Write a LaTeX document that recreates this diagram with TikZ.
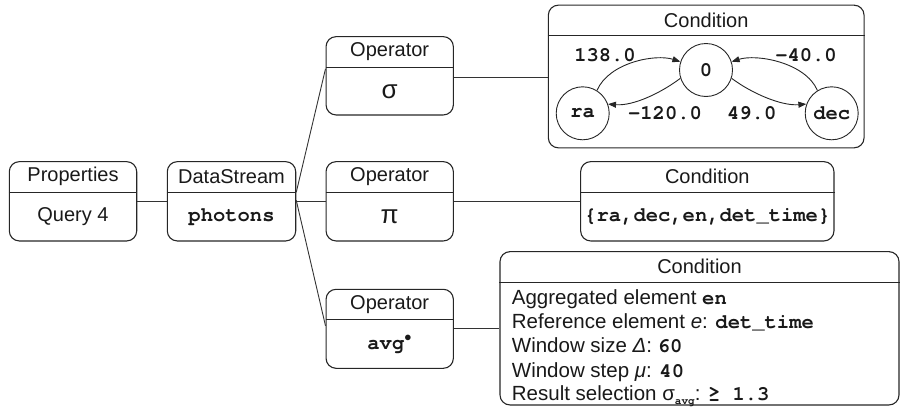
\documentclass[tikz,border=0pt]{standalone}
\usepackage{fontspec}
\setmainfont{Liberation Sans}
\setmonofont{TeX Gyre Cursor}
\usetikzlibrary{arrows.meta,calc}

% a rounded two-compartment box: name, centre, width, height, header, body
\newcommand\umlpanel[6]{%
  \node[panel, minimum width=#3, minimum height=#4] (#1) at (#2) {};
  \draw[divider] ($(#1.north west)+(0,31)$) -- ($(#1.north east)+(0,31)$);
  \node[hdr] (#1-head) at ($(#1.north)+(0,15.5)$) {#5};
  \node[body] (#1-body) at ($(#1.center)+(0,15.5)$) {#6};
}
\newcommand\codefont{\ttfamily\bfseries\fontsize{20.5}{22}\selectfont}

\tikzset{
  panel/.style={draw=black!85, line width=1.1pt, rounded corners=10pt, inner sep=0pt},
  divider/.style={draw=black!85, line width=1pt},
  wire/.style={draw=black!80, line width=0.9pt},
  hdr/.style={font=\fontsize{20}{22}\selectfont, text=black!90, inner sep=0pt},
  body/.style={font=\fontsize{20}{22}\selectfont, text=black!90, inner sep=0pt},
  state/.style={draw=black!85, circle, line width=0.9pt, minimum size=53pt, inner sep=0pt,
                font=\codefont, text=black!90},
  trans/.style={draw=black!85, line width=0.9pt, -{Triangle[length=8pt,width=6pt]}},
  tlabel/.style={font=\codefont, text=black!90, inner sep=0pt},
  condline/.style={font=\fontsize{20.5}{22}\selectfont, text=black!90, inner sep=0pt, anchor=base west},
}

\begin{document}
\begin{tikzpicture}[x=1pt, y=-1pt]
\useasboundingbox (0,0) rectangle (903,407);

% query and stream
\umlpanel{prop}{73,201.3}{127.4pt}{79.3pt}{Properties}{Query 4}
\umlpanel{ds}{231.5,201.3}{128.4pt}{79.3pt}{DataStream}{\codefont photons}

% operators
\umlpanel{op1}{389.7,75.8}{127.3pt}{78.3pt}{Operator}{\fontsize{26}{26}\selectfont σ}
\umlpanel{op2}{389.7,201.3}{127.3pt}{79.3pt}{Operator}{\fontsize{26}{26}\selectfont π}
\umlpanel{op3}{389.7,328.8}{127.3pt}{79pt}{Operator}{\codefont avg$^{\bullet}$}

% conditions
\umlpanel{cond1}{706.2,76.5}{315.7pt}{142.7pt}{Condition}{}
\umlpanel{cond2}{707.3,201.3}{253.3pt}{79.3pt}{Condition}{\codefont \{ra,dec,en,det\_time\}}
\umlpanel{cond3}{699.5,328.3}{399pt}{153.3pt}{Condition}{}

% tree connectors
\draw[wire] (prop.east) -- (ds.west);
\draw[wire] ($(ds.east)+(0,-9)$) -- ($(op1.west)+(0,-7)$);
\draw[wire] (ds.east) -- (op2.west);
\draw[wire] ($(ds.east)+(0,-1)$) -- ($(op3.west)+(0,-3)$);
\draw[wire] ($(op1.east)+(0,2)$) -- ($(op1.east -| cond1.west)+(0,2)$);
\draw[wire] (op2.east) -- (op2.east -| cond2.west);
\draw[wire] (op3.east) -- (op3.east -| cond3.west);

% automaton of the selection condition
\node[state] (s0) at (706,70) {0};
\node[state] (sra) at (582.7,113.3) {ra};
\node[state] (sdec) at (831.7,113.3) {dec};
\draw[trans] (sra.58) .. controls +(12,-28) and +(-25,-8) .. (s0.162);
\draw[trans] (s0.198) .. controls +(-20,15) and +(25,2) .. (sra.20);
\draw[trans] (s0.-18) .. controls +(20,15) and +(-25,2) .. (sdec.160);
\draw[trans] (sdec.122) .. controls +(-12,-28) and +(25,-8) .. (s0.18);
\node[tlabel] (w1) at (605,55) {138.0};
\node[tlabel] (w2) at (806,55) {-40.0};
\node[tlabel] (w3) at (665,113.3) {-120.0};
\node[tlabel] (w4) at (751.7,113.3) {49.0};

% aggregation parameters
\node[condline] (c1) at (511.7,304.5) {Aggregated element {\codefont en}};
\node[condline] (c2) at (511.7,328) {Reference element \textit{e}: {\codefont det\_time}};
\node[condline] (c3) at (511.7,352.5) {Window size \textit{Δ}: {\codefont 60}};
\node[condline] (c4) at (511.7,377) {Window step \textit{μ}: {\codefont 40}};
\node[condline] (c5) at (511.7,400.5) {Result selection σ\raisebox{-0.2em}{\ttfamily\bfseries\fontsize{11}{11}\selectfont avg}: {\codefont ≥ 1.3}};
\end{tikzpicture}
\end{document}
